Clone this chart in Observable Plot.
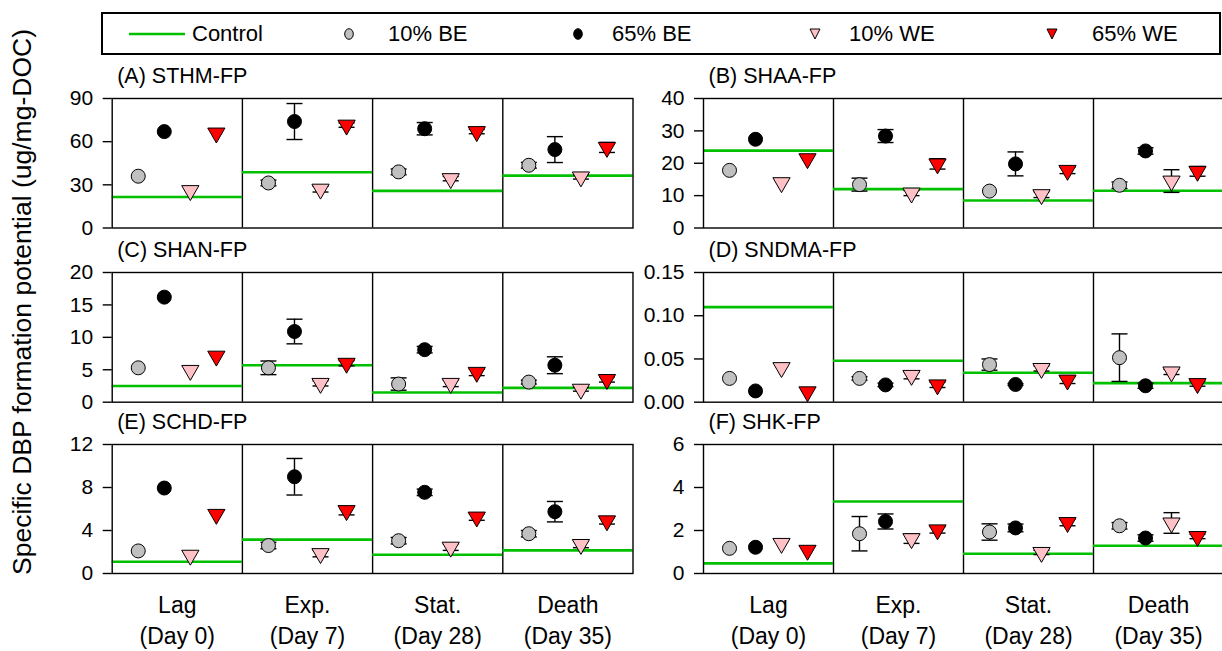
<!DOCTYPE html>
<html>
<head>
<meta charset="utf-8">
<script src="https://cdn.jsdelivr.net/npm/d3@7"></script>
<script src="https://cdn.jsdelivr.net/npm/@observablehq/plot@0.6"></script>
<style>
  html, body { margin: 0; padding: 0; background: #fff; overflow: hidden; }
  #root { position: relative; width: 1222px; height: 651px; overflow: hidden; font-family: "Liberation Sans", Arial, sans-serif; color: #000; }
  .panel { position: absolute; }
  #legend { position: absolute; left: 101px; top: 12px; width: 1116px; height: 39px; border: 2px solid #000; box-sizing: content-box; }
  .li { position: absolute; top: 0; height: 39px; display: flex; align-items: center; font-size: 22px; }
  #ytitle { position: absolute; left: 22px; top: 302px; transform: translate(-50%, -50%) rotate(-90deg); white-space: nowrap; font-size: 26.5px; z-index: 5; }
</style>
</head>
<body>
<div id="root">
  <div id="legend"></div>
  <div id="ytitle">Specific DBP formation potential (ug/mg-DOC)</div>
</div>
<script>
// ---------- data ----------
const phases = ["Lag\n(Day 0)", "Exp.\n(Day 7)", "Stat.\n(Day 28)", "Death\n(Day 35)"];
const treatments = ["10% BE", "65% BE", "10% WE", "65% WE"];
const treatmentFill = ["#c0c0c0", "#000000", "#ffc0c6", "#ff0000"];
const controlColor = "#00c000";

// (A) STHM-FP
const sthmControl = [21.5, 38.7, 25.8, 36.4];
const sthmMean = [[36, 31.3, 39, 43.6], [67, 74, 69, 54.5], [26, 27, 34.3, 35.5], [66, 71.5, 67, 56]];
const sthmErr  = [[0, 2, 2, 2], [0, 12.5, 4.3, 9], [0, 2, 1.5, 1.5], [0, 1.5, 1.5, 3.5]];
const sthmTicks = [0, 30, 60, 90];

// (B) SHAA-FP
const shaaControl = [23.9, 12, 8.5, 11.5];
const shaaMean = [[17.8, 13.4, 11.4, 13.2], [27.4, 28.4, 19.8, 23.8], [14, 10.8, 10.3, 14.5], [21.4, 19.8, 17.8, 17.5]];
const shaaErr  = [[0, 2, 0, 1], [0, 2, 3.7, 1], [0, 0.8, 0.9, 3.5], [0, 1.6, 1, 1.5]];
const shaaTicks = [0, 10, 20, 30, 40];

// (C) SHAN-FP
const shanControl = [2.5, 5.7, 1.5, 2.2];
const shanMean = [[5.3, 5.3, 2.8, 3.1], [16.2, 10.9, 8.1, 5.7], [4.9, 2.9, 2.9, 2.0], [7.1, 6.0, 4.6, 3.5]];
const shanErr  = [[0, 1.05, 0.95, 0.3], [0, 1.9, 0.5, 1.3], [0, 0.4, 0.5, 0.3], [0, 0.4, 0.5, 0.4]];
const shanTicks = [0, 5, 10, 15, 20];

// (D) SNDMA-FP
const sndmaControl = [0.110, 0.048, 0.034, 0.022];
const sndmaMean = [[0.0275, 0.0275, 0.0435, 0.0515], [0.013, 0.020, 0.0205, 0.019], [0.040, 0.031, 0.039, 0.035], [0.012, 0.020, 0.0256, 0.0215]];
const sndmaErr  = [[0, 0.002, 0.0065, 0.0275], [0, 0.002, 0.001, 0.003], [0, 0.004, 0.003, 0.003], [0, 0.003, 0.004, 0.003]];
const sndmaTicks = [0, 0.05, 0.10, 0.15];

// (E) SCHD-FP
const schdControl = [1.1, 3.15, 1.75, 2.15];
const schdMean = [[2.1, 2.6, 3.05, 3.7], [7.95, 9.0, 7.55, 5.75], [1.7, 1.85, 2.45, 2.7], [5.5, 5.85, 5.25, 4.9]];
const schdErr  = [[0, 0.3, 0.3, 0.3], [0, 1.7, 0.3, 0.95], [0, 0.3, 0.3, 0.3], [0, 0.4, 0.3, 0.3]];
const schdTicks = [0, 4, 8, 12];

// (F) SHK-FP
const shkControl = [0.47, 3.35, 0.92, 1.29];
const shkMean = [[1.17, 1.85, 1.93, 2.22], [1.22, 2.42, 2.12, 1.65], [1.4, 1.62, 0.98, 2.35], [1.08, 2.03, 2.37, 1.72]];
const shkErr  = [[0, 0.8, 0.38, 0.15], [0, 0.35, 0.18, 0.15], [0, 0.22, 0.1, 0.48], [0, 0.15, 0.15, 0.1]];
const shkTicks = [0, 2, 4, 6];

// ---------- layout ----------
const rowFrames = [[98.3, 227.8], [272.3, 402], [444, 573]];
const colSvgLeft = [0, 630];
const colFrame = [[111.7, 632.5], [703, 1223]];
const MT = 40;

// error-bar cap symbol (horizontal line)
const capSymbol = {
  draw(context, size) {
    const r = Math.sqrt(size / Math.PI);
    context.moveTo(-r, 0);
    context.lineTo(r, 0);
  }
};

function makePanel(title, control, mean, err, ticks, fmt, row, col) {
  const pts = [];
  treatments.forEach((t, j) => phases.forEach((p, i) => {
    pts.push({t, j, i, x: i + 0.2 * (j + 1), y: mean[j][i], e: err[j][i]});
  }));
  const ctrl = control.map((v, i) => ({x1: i, x2: i + 1, y: v}));
  const withErr = pts.filter(d => d.e > 0);
  const bottom = row === 2;
  const [ft, fb] = rowFrames[row];
  const [fl, fr] = colFrame[col];
  const svgLeft = colSvgLeft[col];
  const mb = bottom ? 78 : 14;
  const marginLeft = fl - svgLeft;
  const width = col === 0 ? 640 : 600;
  const marginRight = svgLeft + width - fr;
  const height = MT + (fb - ft) + mb;
  const circles = pts.filter(d => d.j < 2);
  const tris = pts.filter(d => d.j >= 2);
  const marks = [
    Plot.ruleX([1, 2, 3], {stroke: "#000", strokeWidth: 1.4}),
    Plot.ruleY(ctrl, {y: "y", x1: "x1", x2: "x2", stroke: controlColor, strokeWidth: 2.6}),
    Plot.ruleX(withErr, {x: "x", y1: d => d.y - d.e, y2: d => d.y + d.e, stroke: "#000", strokeWidth: 1.4}),
    Plot.dot(withErr, {x: "x", y: d => d.y + d.e, symbol: capSymbol, r: 8, stroke: "#000", strokeWidth: 1.4, fill: "none"}),
    Plot.dot(withErr, {x: "x", y: d => d.y - d.e, symbol: capSymbol, r: 8, stroke: "#000", strokeWidth: 1.4, fill: "none"}),
    Plot.dot(circles, {x: "x", y: "y", symbol: "circle", r: 7, fill: d => treatmentFill[d.j], stroke: "#000", strokeWidth: 1}),
    Plot.dot(tris, {x: "x", y: "y", symbol: "triangle", r: 6.4, rotate: 180, fill: d => treatmentFill[d.j], stroke: "#000", strokeWidth: 1}),
    Plot.frame({stroke: "#000", strokeWidth: 1.4}),
    Plot.axisY({ticks, label: null, tickSize: 9, tickPadding: 10, tickFormat: fmt, fontSize: 21, strokeWidth: 1.4}),
    Plot.text([title], {frameAnchor: "top-left", dx: 5, dy: -22, textAnchor: "start", lineAnchor: "middle", fontSize: 21.5})
  ];
  if (bottom) {
    marks.push(Plot.axisX({ticks: [0.5, 1.5, 2.5, 3.5], label: null, tickSize: 0, tickPadding: 17, tickFormat: (d) => phases[Math.floor(d)], fontSize: 23, lineHeight: 1.36}));
  }
  const svg = Plot.plot({
    width, height, marginLeft, marginRight, marginTop: MT, marginBottom: mb,
    x: {domain: [0, 4], axis: null},
    y: {domain: [ticks[0], ticks[ticks.length - 1]], axis: null},
    style: {fontFamily: "'Liberation Sans', Arial, sans-serif", background: "none", color: "#000", overflow: "visible"},
    marks
  });
  svg.classList.add("panel");
  svg.style.left = svgLeft + "px";
  svg.style.top = (ft - MT) + "px";
  svg.style.position = "absolute";
  svg.style.maxWidth = "none";
  document.getElementById("root").appendChild(svg);
}

const f0 = d3.format("d");
makePanel("(A) STHM-FP", sthmControl, sthmMean, sthmErr, sthmTicks, f0, 0, 0);
makePanel("(B) SHAA-FP", shaaControl, shaaMean, shaaErr, shaaTicks, f0, 0, 1);
makePanel("(C) SHAN-FP", shanControl, shanMean, shanErr, shanTicks, f0, 1, 0);
makePanel("(D) SNDMA-FP", sndmaControl, sndmaMean, sndmaErr, sndmaTicks, d3.format(".2f"), 1, 1);
makePanel("(E) SCHD-FP", schdControl, schdMean, schdErr, schdTicks, f0, 2, 0);
makePanel("(F) SHK-FP", shkControl, shkMean, shkErr, shkTicks, f0, 2, 1);

// ---------- legend ----------
const legend = document.getElementById("legend");
const legendItems = [
  {label: "Control", kind: "line", sx: 26, tx: 89},
  {label: treatments[0], kind: "circle", j: 0, sx: 246, tx: 285},
  {label: treatments[1], kind: "circle", j: 1, sx: 475, tx: 509},
  {label: treatments[2], kind: "tri", j: 2, sx: 712, tx: 746},
  {label: treatments[3], kind: "tri", j: 3, sx: 949, tx: 989}
];
legendItems.forEach(it => {
  const sw = document.createElementNS("http://www.w3.org/2000/svg", "svg");
  const w = it.kind === "line" ? 56 : 14;
  sw.setAttribute("width", w); sw.setAttribute("height", 14);
  sw.style.position = "absolute"; sw.style.left = (it.sx - (it.kind === "line" ? 0 : 7)) + "px"; sw.style.top = "13px";
  if (it.kind === "line") {
    sw.innerHTML = `<line x1="0" x2="56" y1="7" y2="7" stroke="${controlColor}" stroke-width="2.6"/>`;
  } else if (it.kind === "circle") {
    sw.innerHTML = `<ellipse cx="7" cy="7" rx="4.3" ry="5.3" fill="${treatmentFill[it.j]}" stroke="#000" stroke-width="1"/>`;
  } else {
    sw.innerHTML = `<path d="M2,2 L12,2 L7,12 Z" fill="${treatmentFill[it.j]}" stroke="#000" stroke-width="1"/>`;
  }
  legend.appendChild(sw);
  const t = document.createElement("div");
  t.className = "li"; t.style.left = it.tx + "px"; t.textContent = it.label;
  legend.appendChild(t);
});
</script>
</body>
</html>
